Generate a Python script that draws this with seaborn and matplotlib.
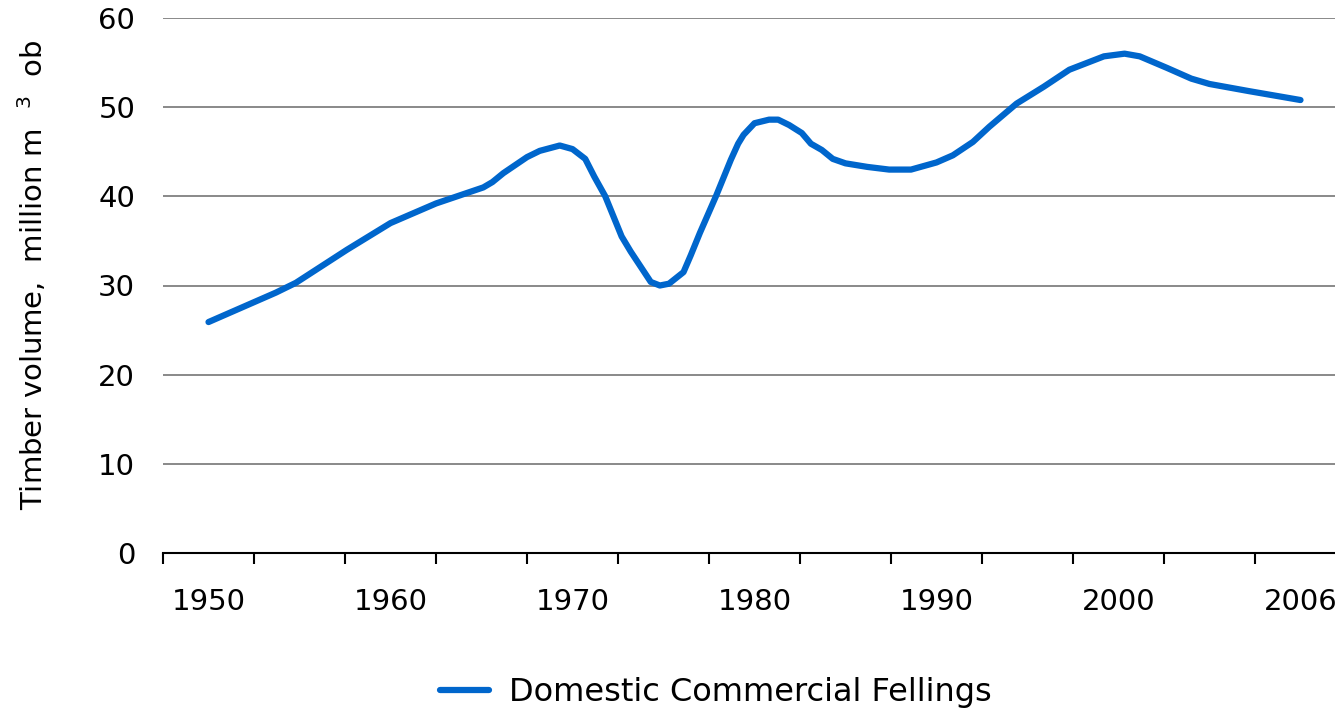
import matplotlib;
matplotlib.use('Agg');
import matplotlib.pyplot as plt;
import numpy as np;
import pandas as pd;
import seaborn as sns;

# values (year, million m3 ob)
is_year = [
    1950.0, 1953.7, 1954.8, 1957.6, 1960.0, 1962.5, 1965.1, 1965.6, 1966.2,
    1967.5, 1968.2, 1969.3, 1970.0, 1970.7, 1971.2, 1971.8, 1972.7, 1973.2,
    1974.3, 1974.8, 1975.3, 1976.1, 1976.5, 1977.0, 1977.9, 1978.7, 1979.1,
    1979.4, 1980.0, 1980.8, 1981.3, 1981.9, 1982.6, 1983.1, 1983.7, 1984.3,
    1985.0, 1986.2, 1987.4, 1988.6, 1990.0, 1990.9, 1992.0, 1992.9, 1994.4,
    1995.9, 1997.3, 1999.2, 2000.2, 2000.7, 2001.6, 2002.4, 2003.0, 2004.3,
    2006.0,
];
is_volume = [
    25.9, 29.2, 30.3, 34.0, 37.0, 39.2, 41.0, 41.6, 42.6,
    44.4, 45.1, 45.7, 45.3, 44.2, 42.2, 40.0, 35.5, 33.8,
    30.4, 30.0, 30.2, 31.5, 33.4, 35.9, 40.1, 44.1, 45.9,
    46.9, 48.2, 48.6, 48.6, 48.0, 47.1, 45.9, 45.2, 44.2,
    43.7, 43.3, 43.0, 43.0, 43.8, 44.6, 46.1, 47.8, 50.4,
    52.3, 54.2, 55.7, 56.0, 55.7, 54.4, 53.2, 52.6, 51.8,
    50.8,
];
is_tick_year = [1950, 1960, 1970, 1980, 1990, 2000, 2006];
is_tick_pos = [0.5, 2.5, 4.5, 6.5, 8.5, 10.5, 12.5];
is_yticks = [0, 10, 20, 30, 40, 50, 60];

is_database = pd.DataFrame({});
is_database['year'] = np.array(is_year);
is_database['volume'] = np.array(is_volume);
# the chart axis is a category axis: map years onto its slots
is_database['pos'] = np.interp(is_database['year'], is_tick_year, is_tick_pos);
is_database['series'] = 'Domestic Commercial Fellings';

sns.set_style('white');
plt.rcParams['font.family'] = ['DejaVu Sans'];
plt.rcParams['text.color'] = 'black';
plt.rcParams['xtick.color'] = 'black';
plt.rcParams['ytick.color'] = 'black';
plt.rcParams['axes.labelcolor'] = 'black';

fig = plt.figure(figsize=(13.35, 7.13), dpi=100);
ax = fig.add_axes([163 / 1335, 1 - 553 / 713, 1 - 163 / 1335, (553 - 18) / 713]);

sns.lineplot(
    data=is_database,
    x='pos',
    y='volume',
    hue='series',
    palette=['#0066CC'],
    linewidth=4.5,
    ax=ax,
    legend=True,
);

ax.set_xlim(0, (1335 - 163) / 91);
ax.set_ylim(0, 60);
ax.set_yticks(is_yticks);
ax.set_yticklabels([str(v) for v in is_yticks]);
ax.grid(axis='y', color='#808080', linewidth=1.3);
ax.grid(axis='x', visible=False);
ax.set_axisbelow(True);

ax.set_xticks(np.arange(0, 13));
ax.set_xticklabels([]);
ax.set_xticks(is_tick_pos, minor=True);
ax.set_xticklabels([str(v) for v in is_tick_year], minor=True);
ax.tick_params(axis='x', which='major', direction='out', length=8, width=1.5, color='black', bottom=True);
ax.tick_params(axis='x', which='minor', length=0, pad=25, labelsize=21);
ax.tick_params(axis='y', length=0, pad=20, labelsize=21);

for is_side in ['top', 'right', 'left']:
    ax.spines[is_side].set_visible(False);
ax.spines['bottom'].set_color('black');
ax.spines['bottom'].set_linewidth(1.5);

ax.set_xlabel('');
ax.set_ylabel('Timber volume,  million m  $^{3}$  ob', fontsize=21);
ax.yaxis.set_label_coords(-0.097, 0.52);

is_handles, is_labels = ax.get_legend_handles_labels();
ax.get_legend().remove();
fig.legend(
    is_handles,
    is_labels,
    loc='center',
    bbox_to_anchor=(716 / 1335, 1 - 693 / 713),
    frameon=False,
    fontsize=23,
    handlelength=1.55,
    handletextpad=0.62,
);

fig.savefig('out.png', dpi=100);
